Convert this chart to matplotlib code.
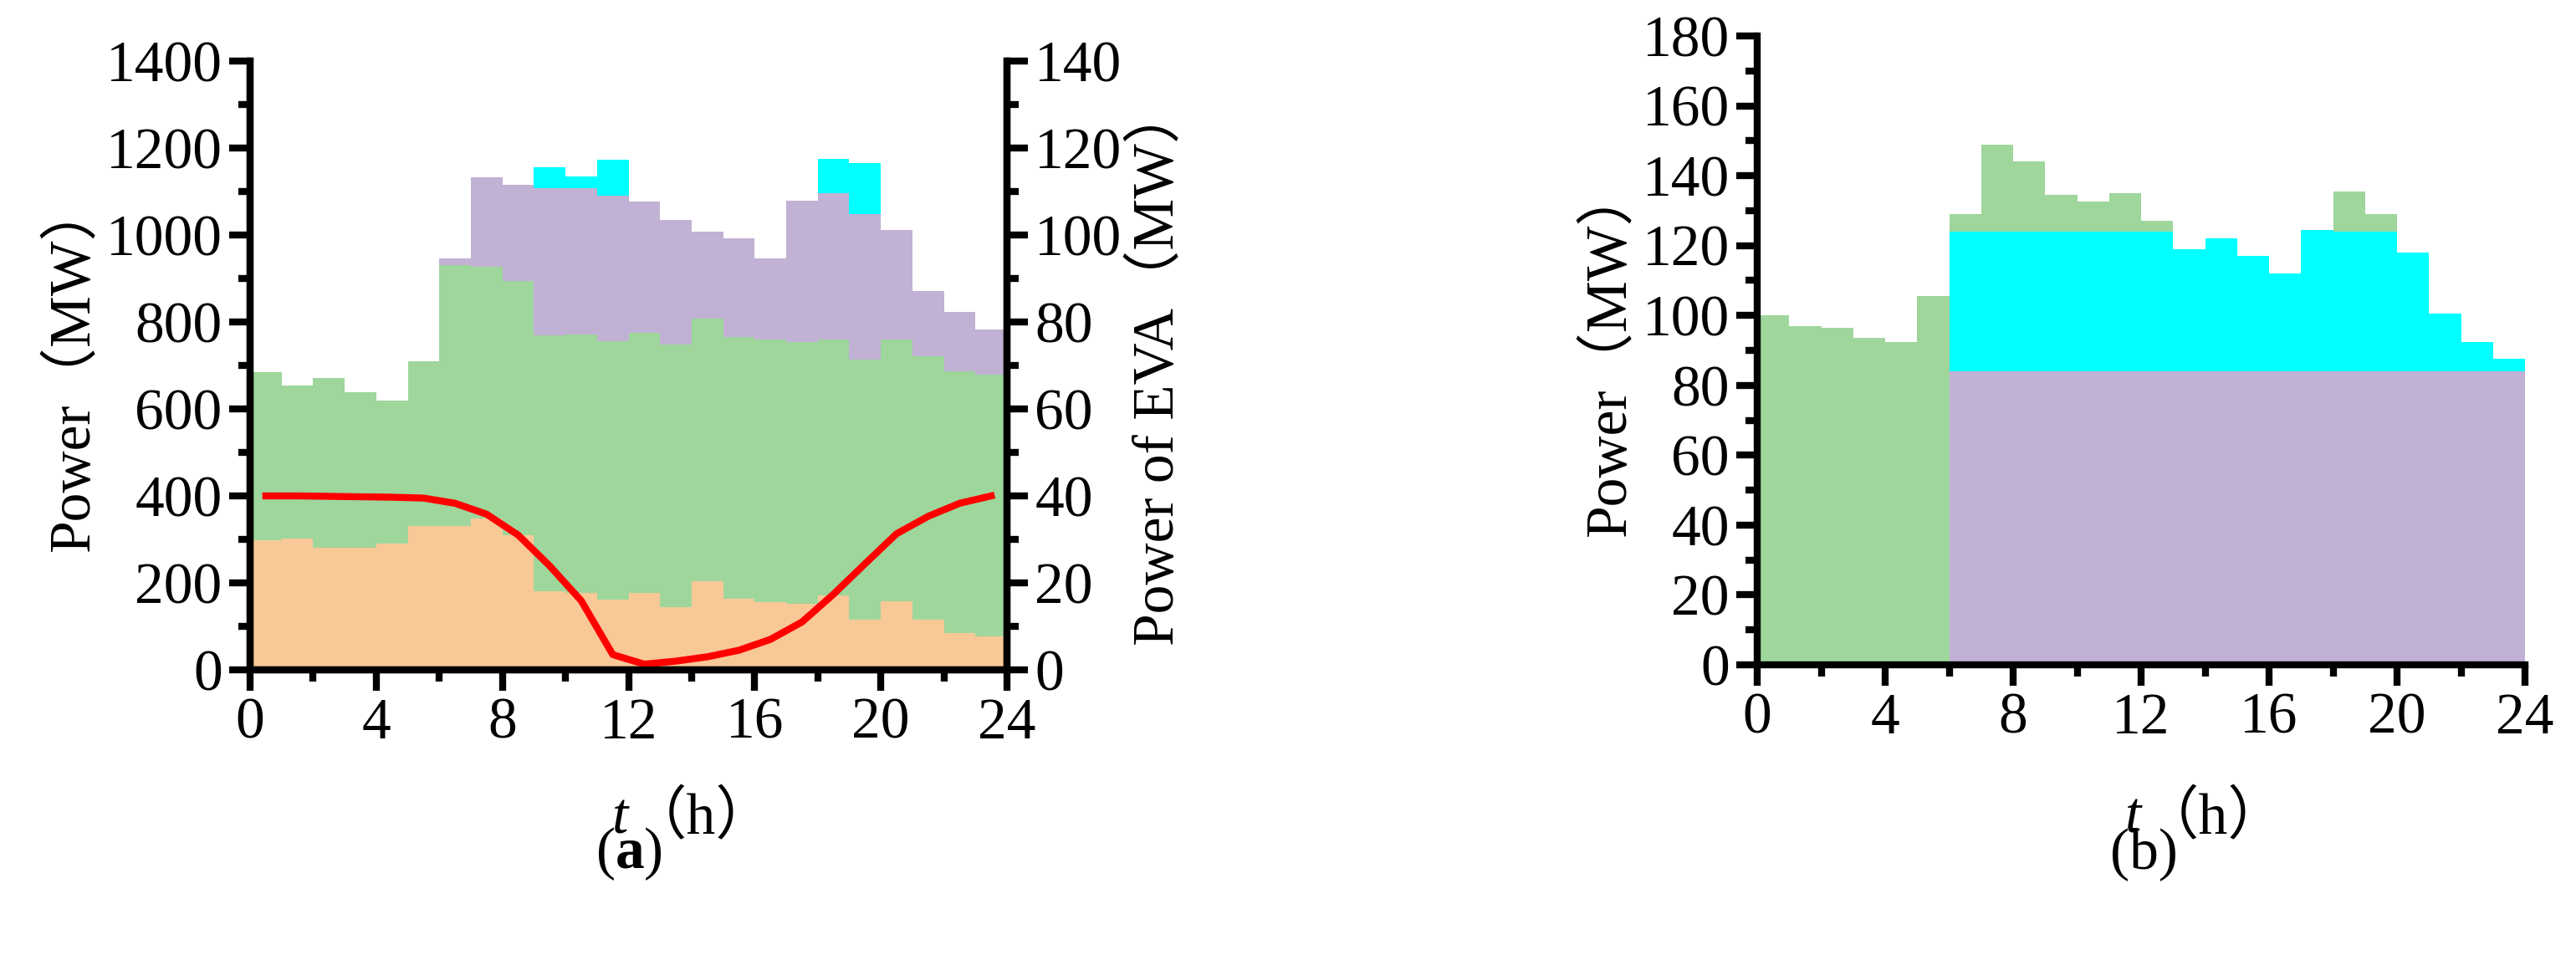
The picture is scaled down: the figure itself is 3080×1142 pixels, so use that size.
import matplotlib
matplotlib.use("Agg")
import matplotlib.pyplot as plt
import numpy as np

plt.rcParams['font.family'] = ['Liberation Serif', 'Noto Sans CJK SC']
plt.rcParams['mathtext.fontset'] = 'custom'
plt.rcParams['mathtext.it'] = 'Liberation Serif:italic'
plt.rcParams['mathtext.rm'] = 'Liberation Serif'
plt.rcParams['mathtext.bf'] = 'Liberation Serif:bold'

hours = list(range(24))
# Panel (a): cumulative tops of each layer (MW)
a_orange_top = [298,301,281,281,291,331,330,348,310,181,176,162,176,144,204,164,156,151,171,116,157,116,84,77]
a_green_top  = [684,653,671,639,619,709,931,926,895,770,772,755,775,748,807,765,760,753,760,714,760,721,686,679]
a_purple_top = [684,653,671,639,619,709,946,1133,1115,1108,1108,1090,1076,1034,1007,992,946,1078,1096,1049,1012,872,823,782]
a_cyan_top   = [684,653,671,639,619,709,946,1133,1115,1156,1135,1173,1076,1034,1007,992,946,1078,1175,1166,1012,872,823,782]
eva_t = [h + 0.5 for h in hours]
eva_power = [40,40,39.9,39.8,39.7,39.5,38.3,35.8,31,23.9,15.9,3.5,1.3,2,3,4.5,7,11,17.4,24.4,31.3,35.3,38.3,40]

# Panel (b): cumulative tops (MW)
b_purple_top = [0,0,0,0,0,0]+[84]*18
b_cyan_top   = [0,0,0,0,0,0,124,124,124,124,124,124,124,119,122,117,112,124.5,124,124,118,100.5,92.5,87.5]
b_green_top  = [100,97,96.5,93.5,92.5,105.5,129,149,144,134.5,132.5,135,127,119,122,117,112,124.5,135.5,129,118,100.5,92.5,87.5]

C_OR, C_GR, C_PU, C_CY = '#F9C897', '#9ED69C', '#C1B1D4', '#00FFFF'

fig = plt.figure(figsize=(30.8, 11.42), dpi=100)
FS = 50
LW = 6

def style(ax, right=False):
    for s in ['top'] + ([] if right else ['right']):
        ax.spines[s].set_visible(False)
    for s in ['left', 'bottom', 'right']:
        ax.spines[s].set_linewidth(LW)
    ax.tick_params(which='major', length=18, width=LW, labelsize=FS, direction='out', pad=6)
    ax.tick_params(which='minor', length=10, width=LW, direction='out')

def stack(ax, layers):
    prev = np.zeros(24)
    for top, c in layers:
        top = np.array(top, float)
        ax.bar(hours, top - prev, bottom=prev, width=1.0, align='edge', color=c, linewidth=0)
        prev = np.maximum(prev, top)

def xlabel(ax):
    ax.text(0.5, -0.245, 't', transform=ax.transAxes, fontsize=FS, style='italic',
            ha='right', va='center', family='Liberation Serif')
    ax.text(0.5, -0.245, '（h）', transform=ax.transAxes, fontsize=FS,
            ha='left', va='center', family=['Liberation Serif', 'Noto Sans CJK SC'])

# (a)
ax = fig.add_axes([299/3080, 1-801/1142, 905/3080, 728/1142])
stack(ax, [(a_orange_top, C_OR), (a_green_top, C_GR), (a_purple_top, C_PU), (a_cyan_top, C_CY)])
ax.set_xlim(0, 24); ax.set_ylim(0, 1400)
ax.set_xticks(range(0, 25, 4)); ax.set_xticks(range(0, 25, 2), minor=True)
ax.set_yticks(range(0, 1401, 200)); ax.set_yticks(range(0, 1401, 100), minor=True)
style(ax, right=True)
ax.set_ylabel('Power（MW）', fontsize=FS, labelpad=4)
xlabel(ax)
ax2 = ax.twinx()
ax2.plot(eva_t, eva_power, color='red', lw=6)
ax2.set_ylim(0, 140)
ax2.set_yticks(range(0, 141, 20)); ax2.set_yticks(range(0, 141, 10), minor=True)
style(ax2, right=True)
ax2.spines['left'].set_visible(True)
ax2.set_ylabel('Power of EVA（MW）', fontsize=FS, labelpad=8)

# (b)
bx = fig.add_axes([2101/3080, 1-795/1142, 918/3080, 752/1142])
stack(bx, [(b_purple_top, C_PU), (b_cyan_top, C_CY), (b_green_top, C_GR)])
bx.set_xlim(0, 24); bx.set_ylim(0, 180)
bx.set_xticks(range(0, 25, 4)); bx.set_xticks(range(0, 25, 2), minor=True)
bx.set_yticks(range(0, 181, 20)); bx.set_yticks(range(0, 181, 10), minor=True)
style(bx)
bx.set_ylabel('Power（MW）', fontsize=FS, labelpad=4)
xlabel(bx)

fig.text(752/3080, 1-1021/1142, r'($\mathbf{a}$)', fontsize=FS, ha='center', va='center')
fig.text(2563/3080, 1-1021/1142, '(b)', fontsize=FS, ha='center', va='center')

fig.savefig('out.png', dpi=100)
